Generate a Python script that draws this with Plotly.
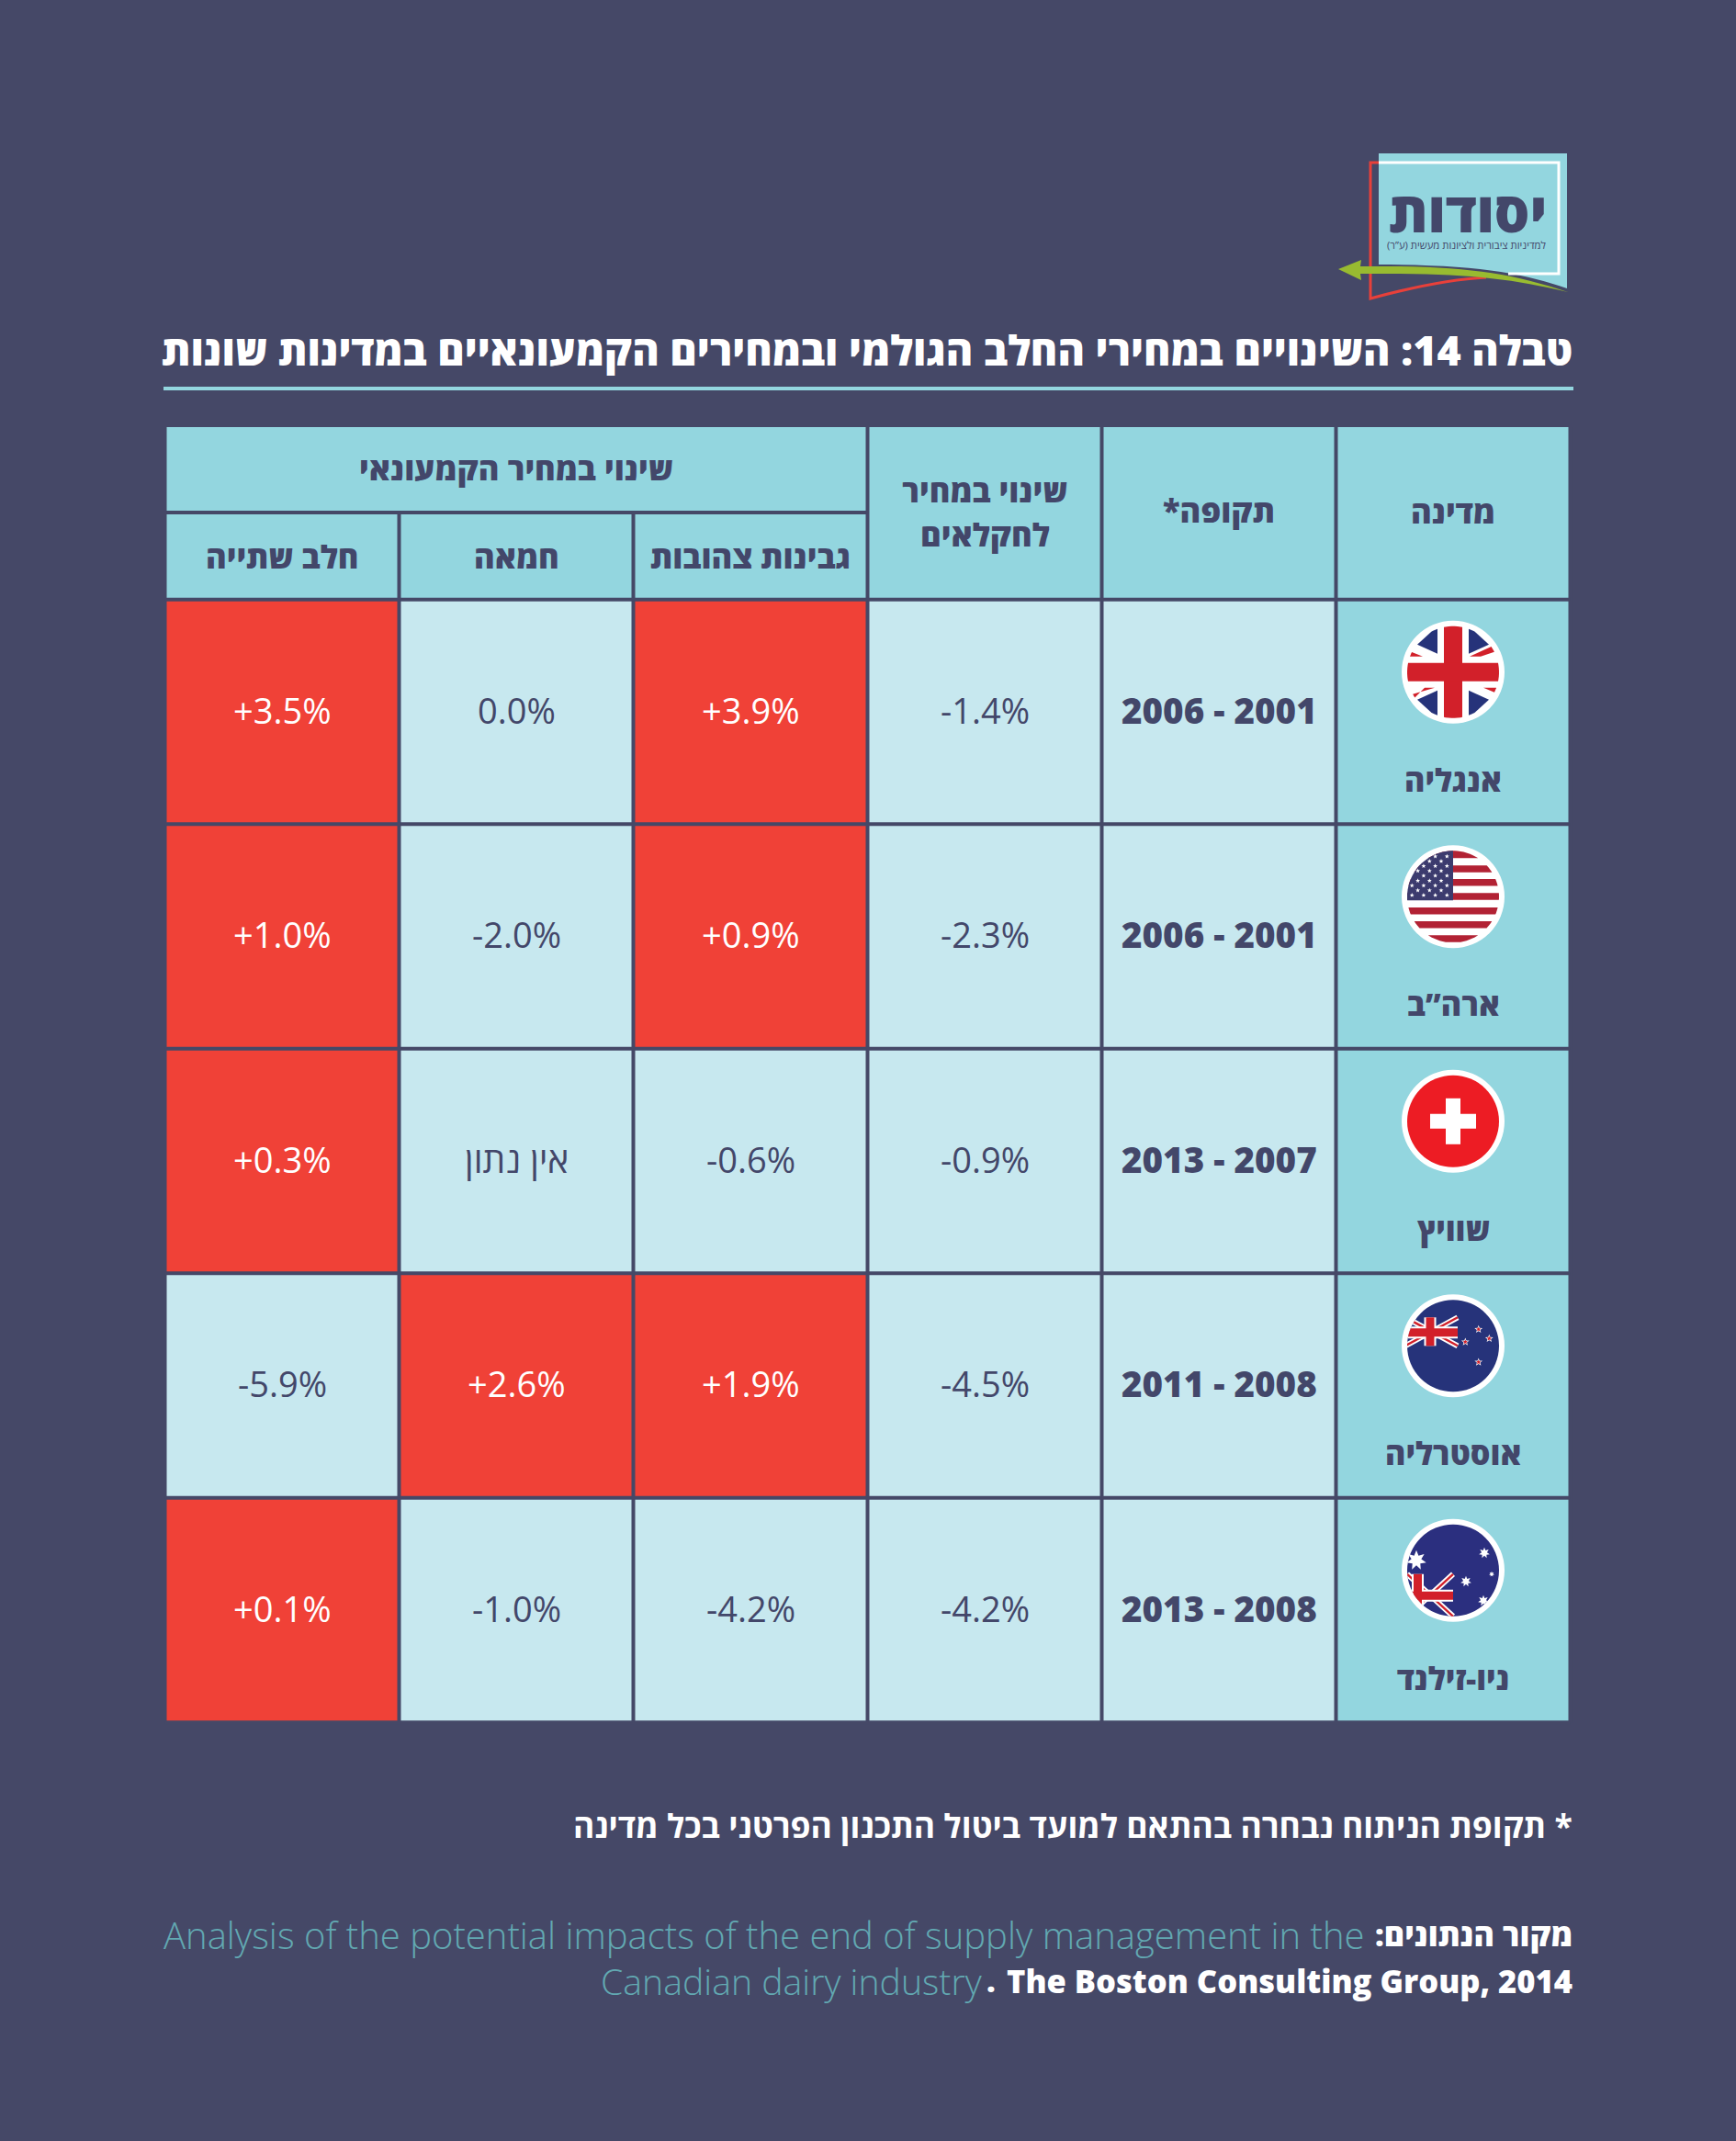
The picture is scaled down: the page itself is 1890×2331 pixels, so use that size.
import math
import plotly.graph_objects as go

# table data, columns run right to left in the picture
COUNTRIES = ["אנגליה", "ארה”ב", "שוויץ", "אוסטרליה", "ניו-זילנד"]
PERIODS = ["2006 - 2001", "2006 - 2001", "2013 - 2007", "2011 - 2008", "2013 - 2008"]
FARM = [-1.4, -2.3, -0.9, -4.5, -4.2]
CHEESE = [3.9, 0.9, -0.6, 1.9, -4.2]
BUTTER = [0.0, -2.0, None, 2.6, -1.0]
MILK = [3.5, 1.0, 0.3, -5.9, 0.1]
NO_DATA = "אין נתון"

HEAD_COUNTRY = "מדינה"
HEAD_PERIOD = "תקופה*\u200f"
HEAD_FARM = ["שינוי במחיר", "לחקלאים"]
HEAD_RETAIL = "שינוי במחיר הקמעונאי"
HEAD_CHEESE = "גבינות צהובות"
HEAD_BUTTER = "חמאה"
HEAD_MILK = "חלב שתייה"

TITLE = "טבלה 14: השינויים במחירי החלב הגולמי ובמחירים הקמעונאיים במדינות שונות"
NOTE = "\u200f* תקופת הניתוח נבחרה בהתאם למועד ביטול התכנון הפרטני בכל מדינה"
SOURCE_HE = "מקור הנתונים:\u200f"
SOURCE_L1 = "Analysis of the potential impacts of the end of supply management in the"
SOURCE_L2 = "Canadian dairy industry"
SOURCE_L3 = "The Boston Consulting Group, 2014"
LOGO = "יסודות"
LOGO_SUB = "למדיניות ציבורית ולציונות מעשית (ע”ר)\u200f"

BG = "#454867"
TEAL = "#93d6df"
LIGHT = "#c7e8ef"
RED = "#f04137"
DARK = "#43476a"
MUTED = "#62a9b2"
FONT = "Open Sans"

LEFT = 179.5
COL_W = 255
HEAD_Y = [465, 558, 652.8]
ROW_H = 244.5
x_edges = [LEFT + i * COL_W for i in range(7)]
y_edges = HEAD_Y + [652.8 + (i + 1) * ROW_H for i in range(5)]
x_mid = [(a + b) / 2 for a, b in zip(x_edges, x_edges[1:])]

shapes = []
notes = []


def add_text(x, y, text, size, color=DARK, weight=400, anchor="center", family=FONT):
    notes.append(dict(x=x, y=y, text=text, showarrow=False, xanchor=anchor, yanchor="middle",
                      borderpad=0, font=dict(family=family, size=size, color=color, weight=weight)))


def add_poly(points, color):
    path = "M" + " L".join(f"{px:.2f},{py:.2f}" for px, py in points) + " Z"
    shapes.append(dict(type="path", path=path, fillcolor=color, line=dict(width=0)))


def clip_circle(points, r):
    # Sutherland-Hodgman against a many sided circle
    out = points
    n = 96
    for k in range(n):
        a = 2 * math.pi * k / n
        nx, ny = math.cos(a), math.sin(a)
        lim = r * math.cos(math.pi / n)
        kept = []
        for i, p in enumerate(out):
            q = out[(i + 1) % len(out)]
            dp = p[0] * nx + p[1] * ny - lim
            dq = q[0] * nx + q[1] * ny - lim
            if dp <= 0:
                kept.append(p)
            if dp * dq < 0:
                t = dp / (dp - dq)
                kept.append((p[0] + t * (q[0] - p[0]), p[1] + t * (q[1] - p[1])))
        out = kept
        if not out:
            break
    return out


def flag_poly(cx, cy, points, color, r=50):
    pts = clip_circle(points, r)
    if len(pts) > 2:
        add_poly([(cx + a, cy + b) for a, b in pts], color)


def rect(x0, y0, x1, y1):
    return [(x0, y0), (x1, y0), (x1, y1), (x0, y1)]


def band(x0, y0, x1, y1, w):
    d = math.hypot(x1 - x0, y1 - y0)
    ox, oy = -(y1 - y0) / d * w, (x1 - x0) / d * w
    return [(x0 + ox, y0 + oy), (x1 + ox, y1 + oy), (x1 - ox, y1 - oy), (x0 - ox, y0 - oy)]


def star(x, y, r, n=5, inner=0.42):
    pts = []
    for k in range(2 * n):
        a = -math.pi / 2 + math.pi * k / n
        rr = r if k % 2 == 0 else r * inner
        pts.append((x + rr * math.cos(a), y + rr * math.sin(a)))
    return pts


def disk(cx, cy, color):
    shapes.append(dict(type="circle", x0=cx - 56, x1=cx + 56, y0=cy - 56, y1=cy + 56, fillcolor="white", line=dict(width=0)))
    shapes.append(dict(type="circle", x0=cx - 50, x1=cx + 50, y0=cy - 50, y1=cy + 50, fillcolor=color, line=dict(width=0)))


def flag_uk(cx, cy):
    navy, red = "#26337a", "#d2202a"
    disk(cx, cy, "white")
    for sx in (-1, 1):
        for sy in (-1, 1):
            flag_poly(cx, cy, [(sx * 39, sy * 30), (sx * 17, sy * 50), (sx * 17, sy * 20)], navy)
    flag_poly(cx, cy, [(-50, -24), (-33, -17), (-50, -17)], red)
    flag_poly(cx, cy, [(18, -17), (42, -28), (45, -22), (30, -17)], red)
    flag_poly(cx, cy, [(-44, 24), (-20, 17), (-31, 17), (-42, 28)][::-1], red)
    flag_poly(cx, cy, [(33, 17), (50, 17), (50, 24)], red)
    flag_poly(cx, cy, rect(-10, -50, 10, 50), red)
    flag_poly(cx, cy, rect(-50, -10, 50, 10), red)


def flag_us(cx, cy):
    red, navy = "#b22234", "#3c3b6e"
    disk(cx, cy, "white")
    for top in (-51, -34, -19.3, -4, 11.7, 26.7, 42):
        flag_poly(cx, cy, rect(-50, top, 50, top + 7.5 if top != -51 else -42), red)
    flag_poly(cx, cy, rect(-50, -50, 0, 4), navy)
    for i in range(9):
        sy = -44 + i * 5.3
        first = -6.7 if i % 2 == 0 else -13
        for j in range(4):
            sx = first - j * 12.7
            if sx * sx + sy * sy < 49 * 49:
                add_poly([(cx + a, cy + b) for a, b in star(sx, sy, 2.6)], "white")


def flag_ch(cx, cy):
    disk(cx, cy, "#ed1c24")
    add_poly([(cx + a, cy + b) for a, b in rect(-25, -8, 25, 8)], "white")
    add_poly([(cx + a, cy + b) for a, b in rect(-8, -25, 8, 25)], "white")


def flag_jack(cx, cy, x0, y0, x1, y1, vx, hy):
    # small union jack canton, vx / hy is where the cross sits
    red = "#d2202a"
    for p, q in (((x0, y0), (x1, y1)), ((x0, y1), (x1, y0))):
        flag_poly(cx, cy, band(p[0], p[1], q[0], q[1], 3), "white")
        flag_poly(cx, cy, band(p[0], p[1], q[0], q[1], 1.2), red)
    flag_poly(cx, cy, rect(vx - 6.5, y0, vx + 6.5, y1), "white")
    flag_poly(cx, cy, rect(x0, hy - 6.5, x1, hy + 6.5), "white")
    flag_poly(cx, cy, rect(vx - 4.5, y0, vx + 4.5, y1), red)
    flag_poly(cx, cy, rect(x0, hy - 4.5, x1, hy + 4.5), red)


def flag_nz(cx, cy):
    disk(cx, cy, "#26337a")
    flag_jack(cx, cy, -52, -31, 5, 0, -25, -14.5)
    for sx, sy in ((27.7, -18), (39.3, -8), (13.3, -4.3), (27.7, 17.7)):
        add_poly([(cx + a, cy + b) for a, b in star(sx, sy, 4.6)], "white")
        add_poly([(cx + a, cy + b) for a, b in star(sx, sy, 2.8)], "#d2202a")


def flag_au(cx, cy):
    disk(cx, cy, "#2b2f7f")
    flag_jack(cx, cy, -50, 4, 0, 50, -38.5, 27.5)
    for sx, sy, r in ((-40, -11, 11), (34, -19, 6), (42, 4, 3), (14, 12, 6), (33, 33, 6)):
        flag_poly(cx, cy, star(sx, sy, r, n=7, inner=0.5), "white")


FLAGS = [flag_uk, flag_us, flag_ch, flag_nz, flag_au]

# cell colours: 0 light, 1 header teal, 2 price went up
rows_z = [[1] * 6, [1] * 6]
for i in range(5):
    row = []
    for v in (MILK[i], BUTTER[i], CHEESE[i], FARM[i]):
        row.append(2 if v is not None and v > 0 else 0)
    rows_z.append(row + [0, 1])

fig = go.Figure(go.Heatmap(
    x=x_edges, y=y_edges, z=rows_z, zmin=0, zmax=2, showscale=False, hoverinfo="skip",
    colorscale=[[0, LIGHT], [0.33, LIGHT], [0.33, TEAL], [0.66, TEAL], [0.66, RED], [1, RED]],
))

# grid, the retail header is one merged cell
grid = [(x_edges[1], 558, x_edges[1], y_edges[-1]), (x_edges[2], 558, x_edges[2], y_edges[-1]),
        (LEFT, 558, x_edges[3], 558)]
for x in (x_edges[0], x_edges[3], x_edges[4], x_edges[5], x_edges[6]):
    grid.append((x, 465, x, y_edges[-1]))
for y in y_edges[2:]:
    grid.append((LEFT, y, x_edges[-1], y))
for x0, y0, x1, y1 in grid:
    shapes.append(dict(type="line", x0=x0, y0=y0, x1=x1, y1=y1, line=dict(color=BG, width=4)))


def pct(v):
    if v is None:
        return NO_DATA
    if v == 0:
        return "0.0%"
    return f"{v:+.1f}%"


for i in range(5):
    top = y_edges[i + 2]
    mid = top + ROW_H / 2 - 2.5
    for c, col in enumerate((MILK, BUTTER, CHEESE, FARM)):
        up = col[i] is not None and col[i] > 0
        add_text(x_mid[c], mid, pct(col[i]), 38 if col[i] is not None else 39, "white" if up else DARK)
    add_text(x_mid[4], mid, PERIODS[i], 38.5, DARK, 800)
    add_text(x_mid[5], top + 196, COUNTRIES[i], 34, DARK, 800)
    FLAGS[i](x_mid[5], top + 79)

# headers
add_text(x_mid[5], 556, HEAD_COUNTRY, 34.5, DARK, 800)
add_text(x_mid[4], 555, HEAD_PERIOD, 34.5, DARK, 800)
add_text(x_mid[3], 533, HEAD_FARM[0], 34.5, DARK, 800)
add_text(x_mid[3], 581, HEAD_FARM[1], 34.5, DARK, 800)
add_text(x_mid[1], 509, HEAD_RETAIL, 34.5, DARK, 800)
add_text(x_mid[2], 605, HEAD_CHEESE, 34.5, DARK, 800)
add_text(x_mid[1], 605, HEAD_BUTTER, 34.5, DARK, 800)
add_text(x_mid[0], 605, HEAD_MILK, 34.5, DARK, 800)

# title and rule
add_text(1713, 380, TITLE, 44.8, "white", 800, "right")
shapes.append(dict(type="rect", x0=178, x1=1713, y0=421, y1=425, fillcolor=TEAL, line=dict(width=0)))

# footer
add_text(1713, 1987, NOTE, 35.5, "white", 700, "right")
add_text(1713, 2106, SOURCE_HE, 34, "white", 800, "right")
add_text(1487, 2106, SOURCE_L1, 40, MUTED, 300, "right")
add_text(1713, 2156, SOURCE_L3, 34.5, "white", 800, "right")
add_text(1079, 2156, ".", 34, "white", 800, "center")
add_text(1071, 2156, SOURCE_L2, 39.2, MUTED, 300, "right")

# logo
shapes.append(dict(type="path", path="M1501,167 L1706,167 L1706,314 C1660,298 1610,288 1501,288 Z", fillcolor=TEAL, line=dict(width=0)))
shapes.append(dict(type="path", path="M1501,177 L1697,177 L1697,298 L1642,298", line=dict(color="white", width=3)))
shapes.append(dict(type="path", path="M1501,177 L1492,177 L1492,325 C1540,312 1580,304 1618,302", line=dict(color="#e8403a", width=3)))
shapes.append(dict(type="path", path="M1457,293 L1482,283 L1481,290 C1590,289 1640,296 1707,318 C1640,302 1590,297 1481,298 L1482,305 Z", fillcolor="#98bb30", line=dict(width=0)))
add_text(1598, 229, LOGO, 60.5, DARK, 800)
add_text(1597, 266, LOGO_SUB, 11.3, DARK, 400)

fig.update_layout(
    width=1890, height=2331, margin=dict(l=0, r=0, t=0, b=0),
    paper_bgcolor=BG, plot_bgcolor=BG, shapes=shapes, annotations=notes, showlegend=False,
    xaxis=dict(range=[0, 1890], visible=False, fixedrange=True),
    yaxis=dict(range=[2331, 0], visible=False, fixedrange=True),
)
fig.write_html("out.html", post_script="document.body.style.margin='0';", config=dict(displayModeBar=False))
